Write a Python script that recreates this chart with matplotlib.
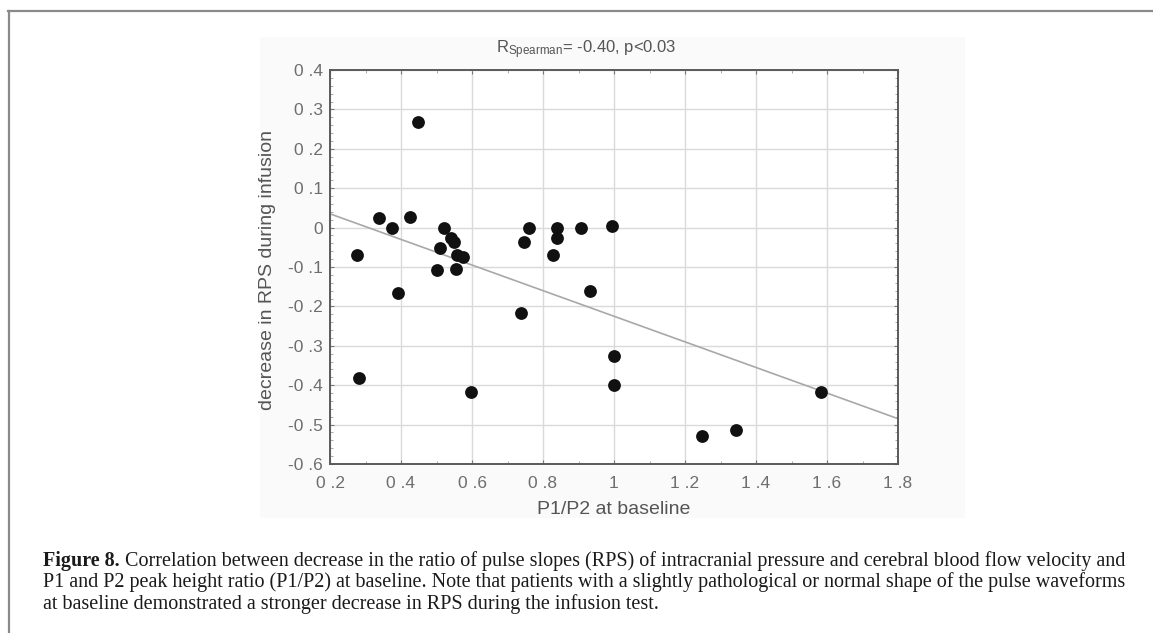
import matplotlib
matplotlib.use("Agg")
import matplotlib.pyplot as plt
from matplotlib.patches import Rectangle
from matplotlib.lines import Line2D
import numpy as np

plt.rcParams['mathtext.fontset'] = 'custom'
plt.rcParams['mathtext.rm'] = 'Liberation Sans'
plt.rcParams['mathtext.it'] = 'Liberation Sans'

# ---- data ----
p1p2 = [0.275, 0.282, 0.338, 0.376, 0.392, 0.426, 0.449, 0.502, 0.509, 0.520,
        0.542, 0.549, 0.554, 0.558, 0.575, 0.596, 0.739, 0.746, 0.761, 0.828,
        0.839, 0.839, 0.906, 0.932, 0.995, 1.000, 1.000, 1.249, 1.345, 1.583]
rps_decrease = [-0.070, -0.381, 0.024, 0.000, -0.167, 0.027, 0.267, -0.108, -0.053, 0.000,
                -0.026, -0.036, -0.104, -0.070, -0.074, -0.416, -0.216, -0.036, 0.000, -0.070,
                0.000, -0.026, 0.000, -0.161, 0.004, -0.327, -0.400, -0.529, -0.514, -0.418]
fit_intercept = 0.100   # value at x = 0
fit_slope = -0.325
x_ticks = [0.2, 0.4, 0.6, 0.8, 1.0, 1.2, 1.4, 1.6, 1.8]
x_tick_labels = ["0 .2", "0 .4", "0 .6", "0 .8", "1", "1 .2", "1 .4", "1 .6", "1 .8"]
y_ticks = [-0.6, -0.5, -0.4, -0.3, -0.2, -0.1, 0.0, 0.1, 0.2, 0.3, 0.4]
y_tick_labels = ["-0 .6", "-0 .5", "-0 .4", "-0 .3", "-0 .2", "-0 .1", "0",
                 "0 .1", "0 .2", "0 .3", "0 .4"]
title_text = r"R$_{\mathrm{Spearman}}$= -0.40, p<0.03"
x_label = "P1/P2 at baseline"
y_label = "decrease in RPS during infusion"
caption_bold = "Figure 8."
caption_lines = [
    " Correlation between decrease in the ratio of pulse slopes (RPS) of intracranial pressure and cerebral blood flow velocity and",
    "P1 and P2 peak height ratio (P1/P2) at baseline. Note that patients with a slightly pathological or normal shape of the pulse waveforms",
    "at baseline demonstrated a stronger decrease in RPS during the infusion test.",
]

W, H = 1153, 633
fig = plt.figure(figsize=(W / 100, H / 100), dpi=100)
fig.patch.set_facecolor("white")

def fx(px):
    return px / W

def fy(py):
    return 1 - py / H

# outer frame lines (top and left)
fig.add_artist(Line2D([fx(8), 1.0], [fy(11), fy(11)], color="#8a8a8a", lw=1.6))
fig.add_artist(Line2D([fx(9), fx(9)], [fy(11), 0.0], color="#8a8a8a", lw=1.6))
# faint background of the embedded chart image
fig.add_artist(Rectangle((fx(260), fy(518)), fx(965 - 260), (518 - 37) / H,
                         facecolor="#fafafa", edgecolor="none", zorder=-5))

ax_l, ax_r, ax_t, ax_b = 330, 898, 70, 464
ax = fig.add_axes([fx(ax_l), fy(ax_b), fx(ax_r - ax_l), (ax_b - ax_t) / H])
ax.set_facecolor("white")
ax.set_xlim(0.2, 1.8)
ax.set_ylim(-0.6, 0.4)
ax.grid(True, color="#dadada", lw=1.0)
ax.set_axisbelow(True)

xs = np.array(ax.get_xlim())
ax.plot(xs, fit_intercept + fit_slope * xs, color="#a8a8a8", lw=1.2, zorder=2)
ax.scatter(p1p2, rps_decrease, s=85, color="#111111", zorder=3, linewidths=0)

ax.set_xticks(x_ticks)
ax.set_xticklabels(x_tick_labels)
ax.set_yticks(y_ticks)
ax.set_yticklabels(y_tick_labels)
ax.set_xticks(np.arange(0.3, 1.8, 0.2), minor=True)
ax.set_yticks(np.arange(-0.58, 0.4, 0.02), minor=True)
ax.tick_params(axis="both", which="major", direction="in", length=3, width=0.8,
               color="#777777", labelsize=12.5, labelcolor="#6e6e6e",
               top=True, right=True, labelfontfamily="Liberation Sans")
ax.tick_params(axis="x", which="major", pad=9)
ax.tick_params(axis="y", which="major", pad=5)
ax.tick_params(axis="both", which="minor", direction="in", length=2, width=0.6,
               color="#999999", top=True, right=True)
for s in ax.spines.values():
    s.set_color("#5a5a5a")
    s.set_linewidth(1.4)

fig.text(fx(586), fy(50), title_text, ha="center", va="center",
         fontsize=12, color="#555555", family="Liberation Sans")
fig.text(fx(614), fy(509), x_label, ha="center", va="center",
         fontsize=14, color="#555555", family="Liberation Sans")
fig.text(fx(268), fy(270), y_label, ha="center", va="center", rotation=90,
         fontsize=14, color="#555555", family="Liberation Sans")

# caption
cap_x = fx(43)
cap_base = [566, 587.5, 609]
cap_fs = 14.5
t = fig.text(cap_x, fy(cap_base[0]), caption_bold, ha="left", va="baseline",
             fontsize=cap_fs, weight="bold", family="Liberation Serif", color="#1a1a1a")
fig.canvas.draw()
bb = t.get_window_extent(renderer=fig.canvas.get_renderer())
fig.text(bb.x1 / W, fy(cap_base[0]), caption_lines[0], ha="left", va="baseline",
         fontsize=cap_fs, family="Liberation Serif", color="#1a1a1a")
for line, yy in zip(caption_lines[1:], cap_base[1:]):
    fig.text(cap_x, fy(yy), line, ha="left", va="baseline",
             fontsize=cap_fs, family="Liberation Serif", color="#1a1a1a")

fig.savefig("out.png", dpi=100, facecolor="white")
